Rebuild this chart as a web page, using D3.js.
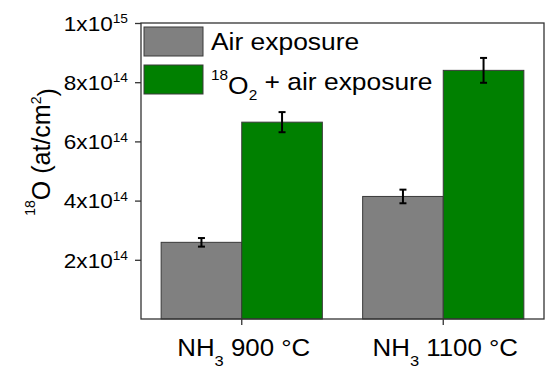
<!DOCTYPE html>
<html>
<head>
<meta charset="utf-8">
<script src="https://cdn.jsdelivr.net/npm/d3@7"></script>
<style>
  body { margin: 0; background: #fff; }
  svg { display: block; font-family: "Liberation Sans", Arial, sans-serif; }
</style>
</head>
<body>
<svg id="chart" width="546" height="369"></svg>
<script>
// Data
const groups = ['NH3 900', 'NH3 1100'];
const groupTemps = ['900 °C', '1100 °C'];
const seriesKeys = ['air', 'o2air'];
const seriesLabels = ['Air exposure', '+ air exposure'];
const airValues = [2.59e14, 4.14e14];
const airErrors = [0.145e14, 0.23e14];
const o2Values = [6.65e14, 8.40e14];
const o2Errors = [0.34e14, 0.42e14];
const yTicks = [2e14, 4e14, 6e14, 8e14, 1e15];

const colors = { air: '#808080', o2air: '#008000' };

const width = 546;
const height = 369;
const marginTop = 23;
const marginRight = 2;
const marginBottom = 50;
const marginLeft = 141;
const stretch = 1.1; // text in the picture is a little wider than plain Arial

const svg = d3.select('#chart');

const x = d3
	.scaleBand()
	.domain(groups)
	.range([marginLeft, width - marginRight])
	.paddingInner(0.2)
	.paddingOuter(0.1);

const xs = d3.scaleBand().domain(seriesKeys).range([0, x.bandwidth()]);

const y = d3
	.scaleLinear()
	.domain([0, 1e15])
	.range([height - marginBottom, marginTop]);

// rows for bars
const rows = [];
groups.forEach((g, i) => {
	rows.push({ group: g, key: 'air', value: airValues[i], err: airErrors[i] });
	rows.push({ group: g, key: 'o2air', value: o2Values[i], err: o2Errors[i] });
});

// Bars
svg
	.append('g')
	.selectAll('rect')
	.data(rows)
	.join('rect')
	.attr('x', (d) => x(d.group) + xs(d.key))
	.attr('y', (d) => y(d.value))
	.attr('width', xs.bandwidth())
	.attr('height', (d) => y(0) - y(d.value))
	.attr('fill', (d) => colors[d.key])
	.attr('stroke', '#3a3a3a')
	.attr('stroke-width', 1);

// Error bars
const eb = svg
	.append('g')
	.attr('stroke', '#000')
	.attr('stroke-width', 2)
	.selectAll('g')
	.data(rows)
	.join('g')
	.attr('transform', (d) => `translate(${x(d.group) + xs(d.key) + xs.bandwidth() / 2},0)`);

eb.append('line')
	.attr('y1', (d) => y(d.value - d.err))
	.attr('y2', (d) => y(d.value + d.err));
eb.append('line')
	.attr('x1', -3.5)
	.attr('x2', 3.5)
	.attr('y1', (d) => y(d.value + d.err))
	.attr('y2', (d) => y(d.value + d.err));
eb.append('line')
	.attr('x1', -3.5)
	.attr('x2', 3.5)
	.attr('y1', (d) => y(d.value - d.err))
	.attr('y2', (d) => y(d.value - d.err));

// Frame
svg
	.append('rect')
	.attr('x', marginLeft)
	.attr('y', marginTop)
	.attr('width', width - marginRight - marginLeft)
	.attr('height', height - marginBottom - marginTop)
	.attr('fill', 'none')
	.attr('stroke', '#333')
	.attr('stroke-width', 1.3);

// Y axis
const yAxis = svg
	.append('g')
	.attr('transform', `translate(${marginLeft},0)`)
	.call(d3.axisLeft(y).tickValues(yTicks).tickSize(6).tickSizeOuter(0).tickFormat(''));
yAxis.select('.domain').remove();
yAxis.selectAll('line').attr('stroke', '#333').attr('stroke-width', 1.3);

yAxis
	.selectAll('.tick')
	.append('text')
	.attr('fill', '#000')
	.attr('text-anchor', 'end')
	.attr('transform', `translate(-13,0) scale(${stretch},1)`)
	.attr('dy', '0.36em')
	.style('font-size', '20.5px')
	.each(function (d) {
		const exp = Math.floor(Math.log10(d) + 1e-9);
		const mant = Math.round(d / Math.pow(10, exp));
		const t = d3.select(this);
		t.append('tspan').text(`${mant}x10`);
		t.append('tspan').attr('dy', '-0.62em').style('font-size', '12.5px').text(exp);
	});

// X axis
const xAxis = svg
	.append('g')
	.attr('transform', `translate(0,${height - marginBottom})`)
	.call(d3.axisBottom(x).tickSize(6).tickSizeOuter(0).tickFormat(''));
xAxis.select('.domain').remove();
xAxis.selectAll('line').attr('stroke', '#333').attr('stroke-width', 1.3);

xAxis
	.selectAll('.tick')
	.append('text')
	.attr('fill', '#000')
	.attr('text-anchor', 'middle')
	.attr('transform', `translate(2,37) scale(${stretch},1)`)
	.style('font-size', '23.5px')
	.each(function (d, i) {
		const t = d3.select(this);
		t.append('tspan').text('NH');
		t.append('tspan').attr('dy', '10').style('font-size', '15px').text('3');
		t.append('tspan').attr('dy', '-10').text(' ' + groupTemps[i]);
	});

// Y label
const yLabel = svg
	.append('text')
	.attr('transform', `translate(43,152) rotate(-90)`)
	.attr('text-anchor', 'middle')
	.style('font-size', '25px');
yLabel.append('tspan').attr('dy', '-0.6em').style('font-size', '14px').text('18');
yLabel.append('tspan').attr('dy', '0.6em').text('O (at/cm');
yLabel.append('tspan').attr('dy', '-0.6em').style('font-size', '14px').text('2');
yLabel.append('tspan').attr('dy', '0.6em').text(')');

// Legend
const legend = svg
	.append('g')
	.selectAll('g')
	.data(seriesKeys)
	.join('g')
	.attr('transform', (d, i) => `translate(144,${27 + i * 38})`);

legend
	.append('rect')
	.attr('width', 59)
	.attr('height', 29)
	.attr('fill', (d) => colors[d])
	.attr('stroke', '#3a3a3a')
	.attr('stroke-width', 1);

legend
	.append('text')
	.attr('transform', `translate(67,23) scale(${stretch},1)`)
	.style('font-size', '24px')
	.each(function (d, i) {
		const t = d3.select(this);
		if (d === 'o2air') {
			t.append('tspan').attr('dy', '-0.6em').style('font-size', '14px').text('18');
			t.append('tspan').attr('dy', '0.6em').text('O');
			t.append('tspan').attr('dy', '0.4em').style('font-size', '14px').text('2');
			t.append('tspan').attr('dy', '-0.4em').text(' ' + seriesLabels[i]);
		} else {
			t.text(seriesLabels[i]);
		}
	});
</script>
</body>
</html>
